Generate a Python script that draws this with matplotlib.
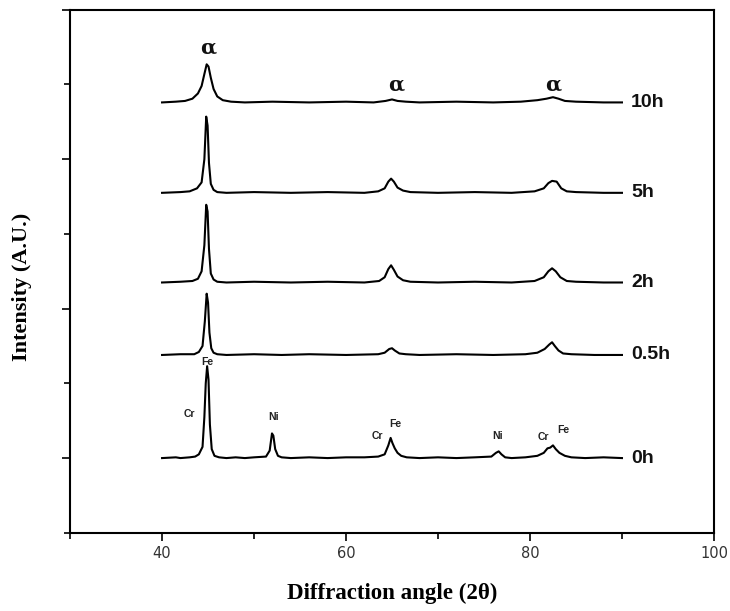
import numpy as np
import matplotlib.pyplot as plt
from matplotlib.ticker import FixedLocator

# Diffraction angle (2 theta) and intensity above baseline
samples = ['0h', '0.5h', '2h', '5h', '10h']
offsets = [1.0, 2.38, 3.35, 4.55, 5.76]

x_0h = [40, 41.5, 42, 43, 43.6, 44.0, 44.4, 44.6, 44.75, 44.9, 45.05, 45.2, 45.4, 45.7, 46.2, 47,
        48, 49, 50, 51.3, 51.7, 51.95, 52.1, 52.3, 52.6, 53.0, 54, 56, 58, 60, 62, 63.5, 64.2,
        64.6, 64.85, 65.05, 65.3, 65.6, 66.0, 66.6, 68, 70, 72, 74, 75.8, 76.3, 76.6, 76.9,
        77.3, 78, 79.5, 80.8, 81.5, 81.9, 82.2, 82.5, 82.8, 83.2, 83.8, 84.5, 86, 88, 90]
y_0h = [0, 0.01, 0, 0.01, 0.02, 0.05, 0.15, 0.55, 1.0, 1.23, 1.05, 0.45, 0.12, 0.03, 0.01, 0,
        0.01, 0, 0.01, 0.02, 0.1, 0.33, 0.3, 0.12, 0.03, 0.01, 0, 0.01, 0, 0.01, 0.01, 0.02, 0.05,
        0.17, 0.27, 0.2, 0.13, 0.07, 0.03, 0.01, 0, 0.01, 0, 0.01, 0.02, 0.07, 0.09, 0.05,
        0.01, 0, 0.01, 0.03, 0.07, 0.13, 0.14, 0.17, 0.12, 0.07, 0.03, 0.01, 0, 0.01, 0]

x_05h = [40, 42, 43.5, 44.0, 44.4, 44.65, 44.85, 45.0, 45.15, 45.35, 45.6, 46.0, 47, 50, 53,
         56, 60, 63.5, 64.2, 64.7, 65.0, 65.3, 65.8, 66.5, 68, 72, 76, 79.5, 80.8, 81.6,
         82.1, 82.4, 82.7, 83.1, 83.6, 84.5, 87, 90]
y_05h = [0, 0.01, 0.01, 0.04, 0.12, 0.45, 0.82, 0.7, 0.3, 0.09, 0.03, 0.01, 0, 0.01, 0,
         0.01, 0, 0.01, 0.03, 0.08, 0.09, 0.06, 0.02, 0.01, 0, 0.01, 0, 0.01, 0.03, 0.08,
         0.14, 0.17, 0.12, 0.06, 0.02, 0.01, 0, 0]

x_2h = [40, 42, 43.3, 43.9, 44.3, 44.6, 44.8, 44.95, 45.1, 45.3, 45.6, 46.0, 47, 50, 54,
        58, 62, 63.6, 64.2, 64.6, 64.9, 65.2, 65.6, 66.2, 67, 70, 74, 78, 80.5, 81.5,
        82.0, 82.4, 82.8, 83.3, 84.0, 85, 88, 90]
y_2h = [0, 0.01, 0.02, 0.05, 0.15, 0.5, 1.04, 0.95, 0.45, 0.12, 0.04, 0.01, 0, 0.01, 0,
        0.01, 0, 0.02, 0.07, 0.18, 0.23, 0.17, 0.08, 0.03, 0.01, 0, 0.01, 0, 0.02, 0.07,
        0.15, 0.19, 0.15, 0.07, 0.02, 0.01, 0, 0]

x_5h = [40, 42, 43.0, 43.8, 44.3, 44.6, 44.8, 44.95, 45.1, 45.3, 45.6, 46.0, 47, 50, 54,
        58, 62, 63.5, 64.2, 64.6, 64.9, 65.2, 65.6, 66.2, 67, 70, 74, 78, 80.5, 81.5,
        82.0, 82.4, 82.9, 83.4, 84.0, 85, 88, 90]
y_5h = [0, 0.01, 0.02, 0.06, 0.14, 0.45, 1.02, 0.9, 0.4, 0.12, 0.04, 0.01, 0, 0.01, 0,
        0.01, 0, 0.02, 0.06, 0.15, 0.19, 0.15, 0.07, 0.03, 0.01, 0, 0.01, 0, 0.02, 0.06,
        0.13, 0.16, 0.15, 0.06, 0.02, 0.01, 0, 0]

x_10h = [40, 41.5, 42.5, 43.3, 43.9, 44.3, 44.6, 44.85, 45.05, 45.3, 45.6, 46.0, 46.6, 47.5,
         49, 52, 56, 60, 63, 64.3, 65.0, 65.6, 66.5, 68, 72, 76, 79, 80.8, 81.8, 82.5,
         83.1, 83.8, 85, 88, 90]
y_10h = [0, 0.01, 0.02, 0.05, 0.12, 0.22, 0.38, 0.51, 0.48, 0.33, 0.18, 0.08, 0.03, 0.01,
         0, 0.01, 0, 0.01, 0, 0.02, 0.04, 0.02, 0.01, 0, 0.01, 0, 0.01, 0.03, 0.05, 0.07,
         0.05, 0.02, 0.01, 0, 0]

traces = [(x_0h, y_0h), (x_05h, y_05h), (x_2h, y_2h), (x_5h, y_5h), (x_10h, y_10h)]

# phase labels on the 0h pattern (text, 2theta, height)
phase_text = ['Cr', 'Fe', 'Ni', 'Cr', 'Fe', 'Ni', 'Cr', 'Fe']
phase_x = [43.0, 44.9, 52.1, 63.4, 65.4, 76.5, 81.5, 83.6]
phase_y = [1.59, 2.28, 1.55, 1.30, 1.46, 1.30, 1.28, 1.37]

alpha_x = [45.0, 65.5, 82.5]
alpha_y = [6.5, 6.0, 6.0]

fig = plt.figure(figsize=(7.3, 6.11), dpi=100)
ax = fig.add_axes([0.096, 0.128, 0.882, 0.856])

for (xs, ys), off in zip(traces, offsets):
    ax.plot(xs, np.array(ys) + off, color='black', lw=1.5)

for name, off in zip(samples, offsets):
    ax.text(91.0, off, name, fontsize=14, fontweight='bold', family='Liberation Sans',
            va='center', ha='left', color='#111111')

for t, px, py in zip(phase_text, phase_x, phase_y):
    ax.text(px, py, t, fontsize=7.5, fontweight='bold', family='Liberation Sans',
            ha='center', va='center', color='#222222')

for px, py in zip(alpha_x, alpha_y):
    ax.text(px, py, '\u03b1', fontsize=15, fontweight='bold', family='DejaVu Serif',
            ha='center', va='center', color='#111111')

ax.set_xlim(30, 100)
ax.set_ylim(0, 7)
ax.set_xticks([40, 60, 80, 100])
ax.xaxis.set_minor_locator(FixedLocator([30, 50, 70, 90]))
ax.yaxis.set_major_locator(FixedLocator([1, 3, 5, 7]))
ax.yaxis.set_minor_locator(FixedLocator([0, 2, 4, 6]))
ax.set_yticklabels([])
ax.tick_params(axis='both', which='major', direction='out', length=6, width=1.2,
               labelsize=10.5, labelcolor='#333333')
ax.tick_params(axis='both', which='minor', direction='out', length=4, width=1.2)
for s in ax.spines.values():
    s.set_linewidth(1.5)

ax.set_xlabel('Diffraction angle (2\u03b8)', fontsize=16.5, fontweight='bold',
              family='Liberation Serif', va='center')
ax.set_ylabel('Intensity (A.U.)', fontsize=16, fontweight='bold',
              family='Liberation Serif', va='center')
ax.xaxis.set_label_coords(0.5, -0.115)
ax.yaxis.set_label_coords(-0.0745, 0.47)

fig.savefig('out.png', dpi=100)
